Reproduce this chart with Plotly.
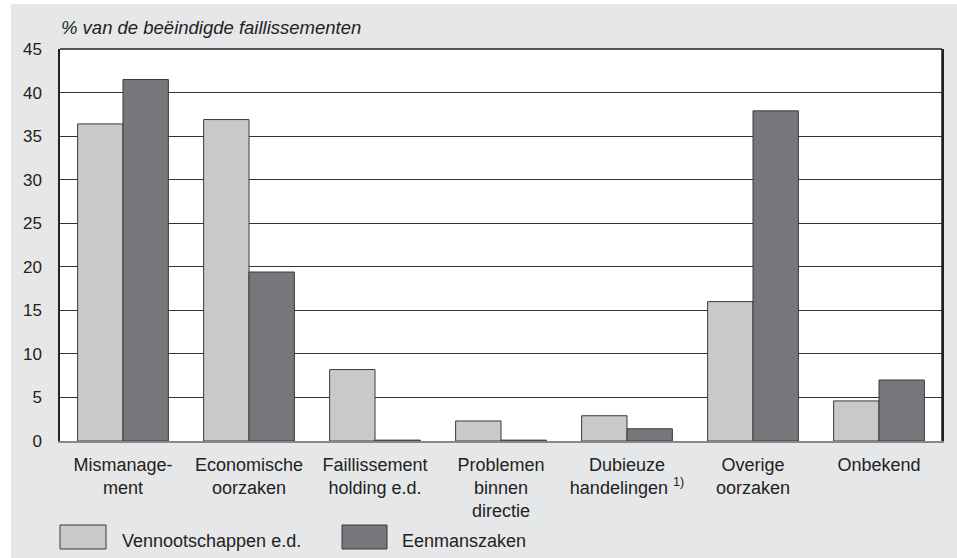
import plotly.graph_objects as go

categories = ["Mismanage-<br>ment", "Economische<br>oorzaken", "Faillissement<br>holding e.d.",
              "Problemen<br>binnen<br>directie", "Dubieuze<br>handelingen <sup>1)</sup>",
              "Overige<br>oorzaken", "Onbekend"]
vennootschappen = [36.4, 36.9, 8.2, 2.3, 2.9, 16.0, 4.6]
eenmanszaken = [41.5, 19.4, 0.1, 0.1, 1.4, 37.9, 7.0]
series_names = ["Vennootschappen e.d.", "Eenmanszaken"]
colors = ["#c8c9cb", "#76777b"]
y_ticks = [0, 5, 10, 15, 20, 25, 30, 35, 40, 45]
y_title = "% van de beëindigde faillissementen"

W, H = 957, 558
L, R, T, B = 60, 15, 49, 117
pw, ph = W - L - R, H - T - B

def px_x(x):
    return (x - L) / pw

def px_y(y):
    return (H - B - y) / ph

font = "Liberation Sans, Arial, sans-serif"

fig = go.Figure()
for name, vals, c in zip(series_names, [vennootschappen, eenmanszaken], colors):
    fig.add_bar(x=categories, y=vals, name=name, marker=dict(color=c, line=dict(color="#3a3a3a", width=1)),
                showlegend=False)

shapes = [
    dict(type="rect", xref="paper", yref="paper", x0=px_x(11), x1=px_x(W + 5), y0=px_y(H + 5), y1=px_y(4),
         fillcolor="#e6e7e8", line=dict(width=0), layer="below"),
    dict(type="rect", xref="paper", yref="paper", x0=0, x1=1, y0=0, y1=1,
         fillcolor="white", line=dict(width=0), layer="below"),
]
annotations = [
    dict(text="<i>" + y_title + "</i>", xref="paper", yref="paper", x=px_x(59), y=px_y(28), xanchor="left",
         yanchor="middle", showarrow=False, font=dict(family=font, size=18.5, color="#222")),
]
leg = [(60, 106, 120), (342, 387, 400)]
for (x0, x1, tx), name, c in zip(leg, series_names, colors):
    shapes.append(dict(type="rect", xref="paper", yref="paper", x0=px_x(x0), x1=px_x(x1), y0=px_y(549), y1=px_y(525),
                       fillcolor=c, line=dict(color="#3a3a3a", width=1)))
    annotations.append(dict(text=name, xref="paper", yref="paper", x=px_x(tx), y=px_y(541), xanchor="left",
                            yanchor="middle", showarrow=False, font=dict(family=font, size=18, color="#222")))

fig.update_layout(
    width=W, height=H, margin=dict(l=L, r=R, t=T, b=B),
    paper_bgcolor="white", plot_bgcolor="white",
    barmode="group", bargap=0.28, bargroupgap=0,
    font=dict(family=font, size=18, color="#222"),
    shapes=shapes, annotations=annotations,
    xaxis=dict(showline=True, linecolor="#888", linewidth=2, mirror=False, ticks="", tickfont=dict(size=18),
               showgrid=False, zeroline=False, ticklabelstandoff=6),
    yaxis=dict(range=[0, 45], tickvals=y_ticks, showgrid=True, gridcolor="#333", gridwidth=1,
               showline=True, linecolor="#222", linewidth=1.5, mirror=True, ticks="",
               ticklabelstandoff=13, zeroline=False, tickfont=dict(size=17)),
)
fig.add_shape(type="line", xref="paper", yref="paper", x0=0, x1=1, y0=1, y1=1, line=dict(color="#222", width=1.5))
fig.add_shape(type="line", xref="paper", yref="paper", x0=1, x1=1, y0=0, y1=1, line=dict(color="#222", width=1.5))

fig.write_html("out.html", config={"displayModeBar": False},
               post_script="document.body.style.margin='0px';document.body.style.overflow='hidden';")
